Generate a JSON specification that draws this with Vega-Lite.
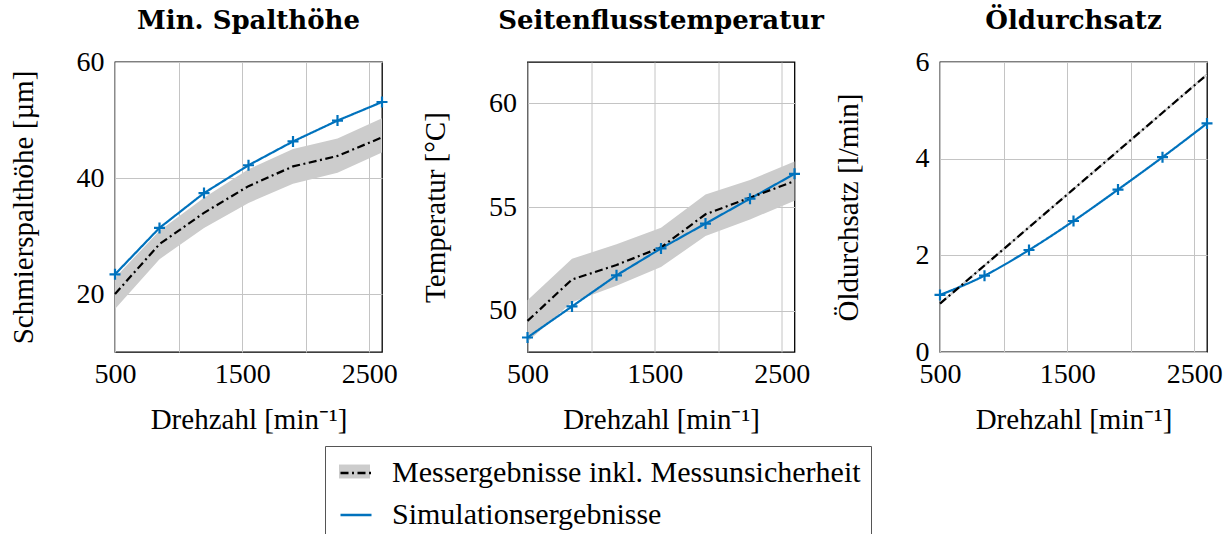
{
  "$schema": "https://vega.github.io/schema/vega-lite/v6.json",
  "padding": {"left": 8, "top": 7, "right": 0, "bottom": 0},
  "bounds": "flush",
  "spacing": 145.5,
  "config": {
    "font": "Liberation Serif",
    "view": {"stroke": "#000000", "strokeWidth": 1.3},
    "axis": {"labelFont": "Liberation Serif", "labelFontSize": 28, "labelColor": "#000000", "titleFont": "Liberation Serif", "titleFontSize": 29, "titleFontWeight": "normal", "titleColor": "#000000", "domain": false, "ticks": false, "gridColor": "#c4c4c4", "gridWidth": 1, "labelOverlap": false, "labelFlush": false, "labelBound": false},
    "axisX": {"labelPadding": 8, "titleY": 67, "titleBaseline": "middle"},
    "axisY": {"labelPadding": 11, "titleX": -92, "titleBaseline": "middle", "titleAngle": -90},
    "title": {"font": "DejaVu Serif", "fontSize": 26, "fontWeight": "bold", "color": "#000000", "anchor": "middle", "frame": "group"},
    "legend": {"labelFont": "Liberation Serif", "labelFontSize": 30, "labelColor": "#000000", "labelOffset": 19, "labelLimit": 0, "rowPadding": 10, "padding": 10, "symbolOffset": 4, "symbolSize": 961}
  },
  "datasets": {
    "lines": [
      {"p": 1, "n": 500, "s": "Simulationsergebnisse", "v": 23.4},
      {"p": 1, "n": 850, "s": "Simulationsergebnisse", "v": 31.4},
      {"p": 1, "n": 1200, "s": "Simulationsergebnisse", "v": 37.4},
      {"p": 1, "n": 1550, "s": "Simulationsergebnisse", "v": 42.2},
      {"p": 1, "n": 1900, "s": "Simulationsergebnisse", "v": 46.3},
      {"p": 1, "n": 2250, "s": "Simulationsergebnisse", "v": 49.9},
      {"p": 1, "n": 2600, "s": "Simulationsergebnisse", "v": 53.1},
      {"p": 1, "n": 500, "s": "Messergebnisse inkl. Messunsicherheit", "v": 20.0},
      {"p": 1, "n": 850, "s": "Messergebnisse inkl. Messunsicherheit", "v": 28.6},
      {"p": 1, "n": 1200, "s": "Messergebnisse inkl. Messunsicherheit", "v": 34.0},
      {"p": 1, "n": 1550, "s": "Messergebnisse inkl. Messunsicherheit", "v": 38.6},
      {"p": 1, "n": 1900, "s": "Messergebnisse inkl. Messunsicherheit", "v": 42.0},
      {"p": 1, "n": 2250, "s": "Messergebnisse inkl. Messunsicherheit", "v": 43.8},
      {"p": 1, "n": 2600, "s": "Messergebnisse inkl. Messunsicherheit", "v": 47.0},
      {"p": 2, "n": 500, "s": "Simulationsergebnisse", "v": 48.7},
      {"p": 2, "n": 850, "s": "Simulationsergebnisse", "v": 50.2},
      {"p": 2, "n": 1200, "s": "Simulationsergebnisse", "v": 51.7},
      {"p": 2, "n": 1550, "s": "Simulationsergebnisse", "v": 53.0},
      {"p": 2, "n": 1900, "s": "Simulationsergebnisse", "v": 54.2},
      {"p": 2, "n": 2250, "s": "Simulationsergebnisse", "v": 55.4},
      {"p": 2, "n": 2600, "s": "Simulationsergebnisse", "v": 56.6},
      {"p": 2, "n": 500, "s": "Messergebnisse inkl. Messunsicherheit", "v": 49.5},
      {"p": 2, "n": 850, "s": "Messergebnisse inkl. Messunsicherheit", "v": 51.5},
      {"p": 2, "n": 1200, "s": "Messergebnisse inkl. Messunsicherheit", "v": 52.2},
      {"p": 2, "n": 1550, "s": "Messergebnisse inkl. Messunsicherheit", "v": 53.05},
      {"p": 2, "n": 1900, "s": "Messergebnisse inkl. Messunsicherheit", "v": 54.65},
      {"p": 2, "n": 2250, "s": "Messergebnisse inkl. Messunsicherheit", "v": 55.45},
      {"p": 2, "n": 2600, "s": "Messergebnisse inkl. Messunsicherheit", "v": 56.25},
      {"p": 3, "n": 500, "s": "Simulationsergebnisse", "v": 1.18},
      {"p": 3, "n": 850, "s": "Simulationsergebnisse", "v": 1.58},
      {"p": 3, "n": 1200, "s": "Simulationsergebnisse", "v": 2.11},
      {"p": 3, "n": 1550, "s": "Simulationsergebnisse", "v": 2.71},
      {"p": 3, "n": 1900, "s": "Simulationsergebnisse", "v": 3.36},
      {"p": 3, "n": 2250, "s": "Simulationsergebnisse", "v": 4.03},
      {"p": 3, "n": 2600, "s": "Simulationsergebnisse", "v": 4.73},
      {"p": 3, "n": 500, "s": "Messergebnisse inkl. Messunsicherheit", "v": 1.0},
      {"p": 3, "n": 850, "s": "Messergebnisse inkl. Messunsicherheit", "v": 1.79},
      {"p": 3, "n": 1200, "s": "Messergebnisse inkl. Messunsicherheit", "v": 2.58},
      {"p": 3, "n": 1550, "s": "Messergebnisse inkl. Messunsicherheit", "v": 3.37},
      {"p": 3, "n": 1900, "s": "Messergebnisse inkl. Messunsicherheit", "v": 4.16},
      {"p": 3, "n": 2250, "s": "Messergebnisse inkl. Messunsicherheit", "v": 4.95},
      {"p": 3, "n": 2600, "s": "Messergebnisse inkl. Messunsicherheit", "v": 5.74}
    ],
    "band": [
      {"p": 1, "n": 500, "b": "Messergebnisse inkl. Messunsicherheit", "lo": 17.4, "hi": 22.8},
      {"p": 1, "n": 850, "b": "Messergebnisse inkl. Messunsicherheit", "lo": 26.0, "hi": 30.9},
      {"p": 1, "n": 1200, "b": "Messergebnisse inkl. Messunsicherheit", "lo": 31.4, "hi": 36.6},
      {"p": 1, "n": 1550, "b": "Messergebnisse inkl. Messunsicherheit", "lo": 35.7, "hi": 41.5},
      {"p": 1, "n": 1900, "b": "Messergebnisse inkl. Messunsicherheit", "lo": 39.0, "hi": 45.0},
      {"p": 1, "n": 2250, "b": "Messergebnisse inkl. Messunsicherheit", "lo": 40.9, "hi": 46.8},
      {"p": 1, "n": 2600, "b": "Messergebnisse inkl. Messunsicherheit", "lo": 44.4, "hi": 50.3},
      {"p": 2, "n": 500, "b": "Messergebnisse inkl. Messunsicherheit", "lo": 48.5, "hi": 50.5},
      {"p": 2, "n": 850, "b": "Messergebnisse inkl. Messunsicherheit", "lo": 50.4, "hi": 52.5},
      {"p": 2, "n": 1200, "b": "Messergebnisse inkl. Messunsicherheit", "lo": 51.2, "hi": 53.2},
      {"p": 2, "n": 1550, "b": "Messergebnisse inkl. Messunsicherheit", "lo": 52.1, "hi": 54.0},
      {"p": 2, "n": 1900, "b": "Messergebnisse inkl. Messunsicherheit", "lo": 53.6, "hi": 55.6},
      {"p": 2, "n": 2250, "b": "Messergebnisse inkl. Messunsicherheit", "lo": 54.4, "hi": 56.3},
      {"p": 2, "n": 2600, "b": "Messergebnisse inkl. Messunsicherheit", "lo": 55.3, "hi": 57.2},
      {"p": 3, "n": 500, "b": "Messergebnisse inkl. Messunsicherheit", "lo": 0.97, "hi": 1.03},
      {"p": 3, "n": 850, "b": "Messergebnisse inkl. Messunsicherheit", "lo": 1.76, "hi": 1.82},
      {"p": 3, "n": 1200, "b": "Messergebnisse inkl. Messunsicherheit", "lo": 2.55, "hi": 2.61},
      {"p": 3, "n": 1550, "b": "Messergebnisse inkl. Messunsicherheit", "lo": 3.34, "hi": 3.4},
      {"p": 3, "n": 1900, "b": "Messergebnisse inkl. Messunsicherheit", "lo": 4.13, "hi": 4.19},
      {"p": 3, "n": 2250, "b": "Messergebnisse inkl. Messunsicherheit", "lo": 4.92, "hi": 4.98},
      {"p": 3, "n": 2600, "b": "Messergebnisse inkl. Messunsicherheit", "lo": 5.71, "hi": 5.77}
    ]
  },
  "hconcat": [
    {
      "width": 267, "height": 290,
      "title": {"text": "Min. Spalthöhe", "offset": 14},
      "encoding": {
        "x": {"field": "n", "type": "quantitative", "scale": {"domain": [500, 2600], "nice": false, "zero": false}, "axis": {"values": [500, 1000, 1500, 2000, 2500], "labelExpr": "datum.value % 1000 == 500 ? datum.label : ''", "format": "d", "title": "Drehzahl [min⁻¹]"}}
      },
      "layer": [
        {"data": {"name": "band"}, "transform": [{"filter": "datum.p == 1"}], "mark": {"type": "area", "opacity": 1},
         "encoding": {
           "y": {"field": "lo", "type": "quantitative", "scale": {"domain": [10, 60], "nice": false, "zero": false}, "axis": {"values": [20, 40, 60], "title": "Schmierspalthöhe [µm]"}},
           "y2": {"field": "hi"},
           "fill": {"field": "b", "type": "nominal", "scale": {"range": ["#cccccc"]}, "legend": {"orient": "none", "legendX": 210, "legendY": 384, "title": null, "labelExpr": "''", "symbolType": "M-1,-0.45H1V0.45H-1Z", "symbolStrokeWidth": 0, "symbolOpacity": 1}}
         }},
        {"data": {"name": "lines"}, "transform": [{"filter": "datum.p == 1"}], "mark": {"type": "line", "strokeWidth": 2.2},
         "encoding": {
           "y": {"field": "v", "type": "quantitative", "axis": {"values": [20, 40, 60], "title": "Schmierspalthöhe [µm]"}},
           "stroke": {"field": "s", "type": "nominal", "scale": {"domain": ["Messergebnisse inkl. Messunsicherheit", "Simulationsergebnisse"], "range": ["#000000", "#0072bd"]}, "legend": {"orient": "none", "legendX": 210, "legendY": 384, "title": null, "symbolType": "stroke", "symbolStrokeWidth": 2.5, "strokeColor": "#555555"}},
           "strokeDash": {"field": "s", "type": "nominal", "scale": {"domain": ["Messergebnisse inkl. Messunsicherheit", "Simulationsergebnisse"], "range": [[8, 3.5, 2, 3.5], [1, 0]]}, "legend": {"orient": "none", "legendX": 210, "legendY": 384, "title": null, "symbolType": "stroke", "symbolStrokeWidth": 2.5, "strokeColor": "#555555"}}
         }},
        {"data": {"name": "lines"}, "transform": [{"filter": "datum.p == 1 && datum.s == 'Simulationsergebnisse'"}], "mark": {"type": "point", "shape": "M-1,0H1M0,-1V1", "filled": false, "size": 121, "strokeWidth": 2.2, "color": "#0072bd", "opacity": 1},
         "encoding": {"y": {"field": "v", "type": "quantitative"}}}
      ]
    },
    {
      "width": 267, "height": 290,
      "title": {"text": "Seitenflusstemperatur", "offset": 28},
      "encoding": {
        "x": {"field": "n", "type": "quantitative", "scale": {"domain": [500, 2600], "nice": false, "zero": false}, "axis": {"values": [500, 1000, 1500, 2000, 2500], "labelExpr": "datum.value % 1000 == 500 ? datum.label : ''", "format": "d", "title": "Drehzahl [min⁻¹]"}}
      },
      "layer": [
        {"data": {"name": "band"}, "transform": [{"filter": "datum.p == 2"}], "mark": {"type": "area", "opacity": 1},
         "encoding": {
           "y": {"field": "lo", "type": "quantitative", "scale": {"domain": [48, 62], "nice": false, "zero": false}, "axis": {"values": [50, 55, 60], "title": "Temperatur [°C]"}},
           "y2": {"field": "hi"},
           "fill": {"field": "b", "type": "nominal", "scale": {"range": ["#cccccc"]}, "legend": {"orient": "none", "legendX": 210, "legendY": 384, "title": null, "labelExpr": "''", "symbolType": "M-1,-0.45H1V0.45H-1Z", "symbolStrokeWidth": 0, "symbolOpacity": 1}}
         }},
        {"data": {"name": "lines"}, "transform": [{"filter": "datum.p == 2"}], "mark": {"type": "line", "strokeWidth": 2.2},
         "encoding": {
           "y": {"field": "v", "type": "quantitative", "axis": {"values": [50, 55, 60], "title": "Temperatur [°C]"}},
           "stroke": {"field": "s", "type": "nominal", "scale": {"domain": ["Messergebnisse inkl. Messunsicherheit", "Simulationsergebnisse"], "range": ["#000000", "#0072bd"]}, "legend": {"orient": "none", "legendX": 210, "legendY": 384, "title": null, "symbolType": "stroke", "symbolStrokeWidth": 2.5, "strokeColor": "#555555"}},
           "strokeDash": {"field": "s", "type": "nominal", "scale": {"domain": ["Messergebnisse inkl. Messunsicherheit", "Simulationsergebnisse"], "range": [[8, 3.5, 2, 3.5], [1, 0]]}, "legend": {"orient": "none", "legendX": 210, "legendY": 384, "title": null, "symbolType": "stroke", "symbolStrokeWidth": 2.5, "strokeColor": "#555555"}}
         }},
        {"data": {"name": "lines"}, "transform": [{"filter": "datum.p == 2 && datum.s == 'Simulationsergebnisse'"}], "mark": {"type": "point", "shape": "M-1,0H1M0,-1V1", "filled": false, "size": 121, "strokeWidth": 2.2, "color": "#0072bd", "opacity": 1},
         "encoding": {"y": {"field": "v", "type": "quantitative"}}}
      ]
    },
    {
      "width": 267, "height": 290,
      "title": {"text": "Öldurchsatz", "offset": 14},
      "encoding": {
        "x": {"field": "n", "type": "quantitative", "scale": {"domain": [500, 2600], "nice": false, "zero": false}, "axis": {"values": [500, 1000, 1500, 2000, 2500], "labelExpr": "datum.value % 1000 == 500 ? datum.label : ''", "format": "d", "title": "Drehzahl [min⁻¹]"}}
      },
      "layer": [
        {"data": {"name": "band"}, "transform": [{"filter": "datum.p == 3"}], "mark": {"type": "area", "opacity": 1},
         "encoding": {
           "y": {"field": "lo", "type": "quantitative", "scale": {"domain": [0, 6], "nice": false, "zero": false}, "axis": {"values": [0, 2, 4, 6], "title": "Öldurchsatz [l/min]"}},
           "y2": {"field": "hi"},
           "fill": {"field": "b", "type": "nominal", "scale": {"range": ["#cccccc"]}, "legend": {"orient": "none", "legendX": 210, "legendY": 384, "title": null, "labelExpr": "''", "symbolType": "M-1,-0.45H1V0.45H-1Z", "symbolStrokeWidth": 0, "symbolOpacity": 1}}
         }},
        {"data": {"name": "lines"}, "transform": [{"filter": "datum.p == 3"}], "mark": {"type": "line", "strokeWidth": 2.2, "interpolate": "monotone"},
         "encoding": {
           "y": {"field": "v", "type": "quantitative", "axis": {"values": [0, 2, 4, 6], "title": "Öldurchsatz [l/min]"}},
           "stroke": {"field": "s", "type": "nominal", "scale": {"domain": ["Messergebnisse inkl. Messunsicherheit", "Simulationsergebnisse"], "range": ["#000000", "#0072bd"]}, "legend": {"orient": "none", "legendX": 210, "legendY": 384, "title": null, "symbolType": "stroke", "symbolStrokeWidth": 2.5, "strokeColor": "#555555"}},
           "strokeDash": {"field": "s", "type": "nominal", "scale": {"domain": ["Messergebnisse inkl. Messunsicherheit", "Simulationsergebnisse"], "range": [[8, 3.5, 2, 3.5], [1, 0]]}, "legend": {"orient": "none", "legendX": 210, "legendY": 384, "title": null, "symbolType": "stroke", "symbolStrokeWidth": 2.5, "strokeColor": "#555555"}}
         }},
        {"data": {"name": "lines"}, "transform": [{"filter": "datum.p == 3 && datum.s == 'Simulationsergebnisse'"}], "mark": {"type": "point", "shape": "M-1,0H1M0,-1V1", "filled": false, "size": 121, "strokeWidth": 2.2, "color": "#0072bd", "opacity": 1},
         "encoding": {"y": {"field": "v", "type": "quantitative"}}}
      ]
    }
  ]
}
